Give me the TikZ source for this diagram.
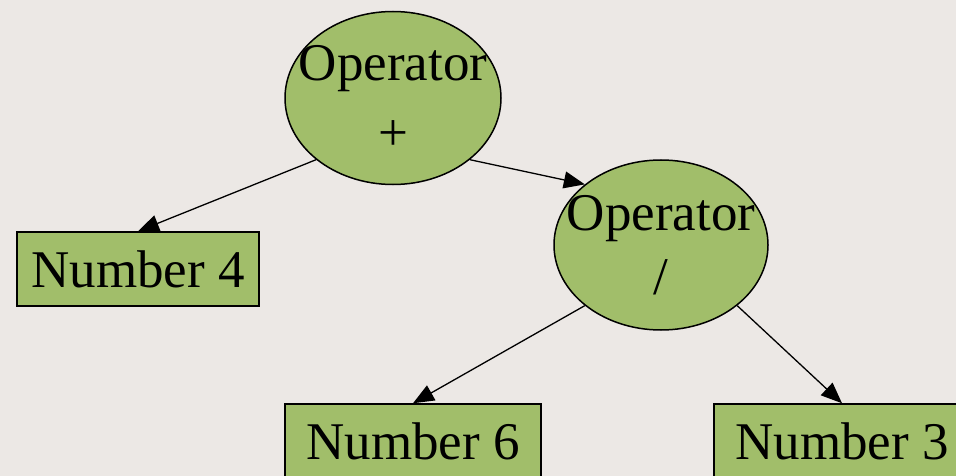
\documentclass[tikz,border=0pt]{standalone}
\usepackage{fontspec}
\setmainfont{Liberation Serif}
\usetikzlibrary{arrows.meta,shapes.geometric}
\definecolor{bg}{RGB}{236,232,229}
\definecolor{leaf}{RGB}{161,190,106}
\begin{document}
\begin{tikzpicture}[x=1pt,y=-1pt,
  opnode/.style={ellipse, draw=black, line width=1.5pt, fill=leaf, inner sep=0pt,
    minimum width=216pt, minimum height=173pt, align=center,
    font=\fontsize{53}{64}\selectfont},
  numbox/.style={rectangle, draw=black, line width=1.5pt, fill=leaf, inner sep=0pt,
    minimum height=74pt, font=\fontsize{53}{64}\selectfont},
  link/.style={line width=1.3pt, -{Triangle[length=21pt,width=17pt]}}]
\fill[bg] (0,0) rectangle (956,476);
\useasboundingbox (0,0) rectangle (956,476);
\node[opnode] (e1) at (393,98) {\makebox[0pt]{Operator}\\[6pt]\makebox[0pt]{+}};
\node[opnode, minimum width=214pt, minimum height=170pt] (e2) at (661,245) {\makebox[0pt]{Operator}\\\makebox[0pt]{/}};
\node[numbox, minimum width=242pt] (n4) at (138,269) {Number 4};
\node[numbox, minimum width=256pt] (n6) at (413,441) {Number 6};
\node[numbox, minimum width=256pt] (n3) at (842,441) {Number 3};
\draw[link] (e1.south west) -- (n4.north);
\draw[link] (e1.south east) -- (e2.north west);
\draw[link] (e2.south west) -- (n6.north);
\draw[link] (e2.south east) -- (n3.north);
\end{tikzpicture}
\end{document}
